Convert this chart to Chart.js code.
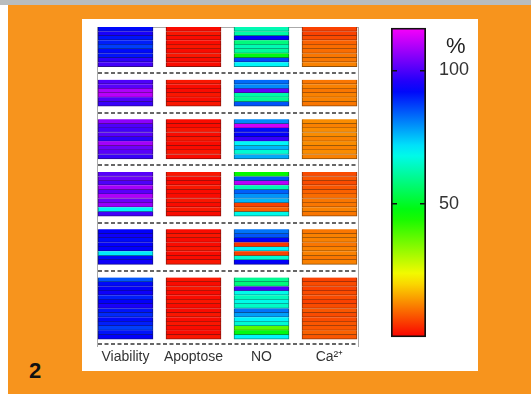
<!DOCTYPE html>
<html>
<head>
<meta charset="utf-8">
<script src="https://cdn.jsdelivr.net/npm/chart.js@4.4.1/dist/chart.umd.min.js"></script>
<style>
html,body{margin:0;padding:0;}
body{width:531px;height:394px;position:relative;overflow:hidden;background:#fff;font-family:'Liberation Sans',Arial,sans-serif;}
#strip{position:absolute;left:0;top:0;width:531px;height:5px;background:#b8bcbe;}
#bg{position:absolute;left:8px;top:5px;width:523px;height:389px;background:#f7941d;}
#panel{position:absolute;left:82px;top:19px;width:396px;height:352px;background:#fff;}
#heat{position:absolute;left:82px;top:19px;}
#cbar{position:absolute;left:386px;top:16px;}
#pct{position:absolute;left:446px;top:33px;font-size:22px;color:#222;}
#num{position:absolute;left:29px;top:358px;font-size:22px;font-weight:bold;color:#111;}
</style>
</head>
<body>
<div id="strip"></div>
<div id="bg"></div>
<div id="panel"></div>
<canvas id="heat" width="300" height="352"></canvas>
<canvas id="cbar" width="95" height="333"></canvas>
<div id="pct">%</div>
<div id="num">2</div>
<script>
// column labels and row groups (top to bottom)
const columns = ['Viability', 'Apoptose', 'NO', 'Ca²⁺']
const groupSizes = [9, 6, 9, 10, 8, 14]

// values in % per row, concatenated over the groups
const viability = [
  92, 95, 91, 90, 87, 92, 91, 97, 99,
  100, 101, 109, 110, 100, 98,
  106, 100, 99, 101, 97, 108, 103, 101, 98,
  101, 103, 100, 108, 101, 109, 103, 107, 70, 99,
  93, 94, 92, 93, 93, 71, 92, 94,
  85, 92, 93, 94, 90, 93, 95, 91, 89, 92, 90, 87, 91, 93
]
const apoptose = [
  1, 2, 1, 1, 2, 1, 2, 1, 1,
  2, 1, 1, 2, 1, 2,
  1, 1, 2, 1, 2, 1, 1, 2, 1,
  2, 1, 1, 2, 1, 1, 2, 1, 2, 1,
  1, 2, 1, 1, 2, 1, 1, 2,
  2, 1, 2, 1, 1, 2, 1, 1, 2, 1, 2, 1, 1, 2
]
const no = [
  63, 62, 93, 58, 63, 61, 48, 86, 70,
  83, 80, 102, 62, 60, 85,
  80, 112, 92, 93, 98, 70, 76, 66, 77,
  46, 85, 110, 63, 84, 79, 76, 6, 9, 68,
  82, 85, 93, 5, 70, 6, 66, 93,
  60, 58, 100, 68, 64, 68, 65, 82, 78, 70, 66, 38, 48, 70
]
const calcium = [
  6, 6, 7, 9, 10, 10, 11, 11, 12,
  11, 12, 11, 12, 12, 11,
  13, 12, 13, 13, 12, 13, 12, 13, 12,
  7, 8, 7, 8, 9, 10, 11, 11, 12, 11,
  11, 12, 12, 11, 12, 12, 11, 12,
  6, 7, 6, 7, 7, 6, 7, 8, 7, 7, 8, 8, 9, 8
]
const colorTicks = [50, 100]
const colorMin = 0
const colorMax = 116

const series = [viability, apoptose, no, calcium]

// layout of the grid in axis units
const GAP = 3
const COL_W = 55
const COL_STEP = 68

Chart.defaults.font.family = "'Liberation Sans', Arial, sans-serif"
Chart.defaults.color = '#333'

function hue(v) {
  return Math.max(0, Math.min(1, (v - colorMin) / (colorMax - colorMin))) * 300
}
function colorOf(v) { return 'hsl(' + hue(v) + ',100%,49%)' }
function edgeOf(v) { return 'hsl(' + hue(v) + ',85%,30%)' }

const rowPos = []
const dashPos = []
let start = 0
groupSizes.forEach((n, g) => {
  for (let i = 0; i < n; i++) rowPos.push(start + i + 0.5)
  start += n
  dashPos.push(g < groupSizes.length - 1 ? start + GAP / 2 : start + 1.1)
  start += GAP
})
const yMax = dashPos[dashPos.length - 1] + 0.5

new Chart(document.getElementById('heat'), {
  type: 'bar',
  data: {
    datasets: series.map((vals, c) => ({
      data: vals.map((v, i) => ({ y: rowPos[i], x: [c * COL_STEP, c * COL_STEP + COL_W] })),
      backgroundColor: vals.map(colorOf),
      borderColor: vals.map(edgeOf),
      borderWidth: { top: 0, right: 1, bottom: 1, left: 1 },
      borderSkipped: false,
      grouped: false,
      barPercentage: 1,
      categoryPercentage: 1
    }))
  },
  options: {
    indexAxis: 'y',
    responsive: false,
    animation: false,
    layout: { padding: { left: 15, right: 24, top: 8, bottom: 2 } },
    plugins: { legend: { display: false }, tooltip: { enabled: false } },
    scales: {
      x: {
        type: 'linear',
        min: -1,
        max: 3 * COL_STEP + COL_W + 1,
        afterBuildTicks: axis => { axis.ticks = columns.map((_, c) => ({ value: c * COL_STEP + COL_W / 2 })) },
        ticks: { callback: (v, i) => columns[i], autoSkip: false, maxRotation: 0, padding: 3, font: { size: 14 }, color: '#333' },
        grid: { display: false, drawTicks: false },
        border: { display: false }
      },
      x2: {
        type: 'linear',
        position: 'top',
        min: 0,
        max: 1,
        ticks: { display: false },
        grid: { display: false, drawTicks: false },
        border: { color: '#aaa', width: 1 }
      },
      y: {
        type: 'linear',
        reverse: true,
        offset: false,
        min: 0,
        max: yMax,
        afterBuildTicks: axis => { axis.ticks = dashPos.map(v => ({ value: v })) },
        ticks: { display: false },
        grid: { color: '#666', lineWidth: 2, drawTicks: false, offset: false },
        border: { color: '#aaa', width: 1, dash: [4, 2.5] }
      },
      y2: {
        type: 'linear',
        position: 'right',
        ticks: { display: false },
        grid: { display: false, drawTicks: false },
        border: { color: '#aaa', width: 1 }
      }
    }
  }
})

new Chart(document.getElementById('cbar'), {
  type: 'bar',
  data: {
    labels: [''],
    datasets: [{
      data: [[colorMin, colorMax]],
      backgroundColor: ctx => {
        const area = ctx.chart.chartArea
        if (!area) return '#fff'
        const g = ctx.chart.ctx.createLinearGradient(0, area.bottom, 0, area.top)
        for (let v = colorMin; v <= colorMax; v += 4) g.addColorStop((v - colorMin) / (colorMax - colorMin), colorOf(v))
        return g
      },
      borderColor: '#111',
      borderWidth: 2,
      borderSkipped: false,
      barPercentage: 1,
      categoryPercentage: 1
    }]
  },
  options: {
    responsive: false,
    animation: false,
    layout: { padding: { left: 5, right: 0, top: 0, bottom: 0 } },
    plugins: { legend: { display: false }, tooltip: { enabled: false } },
    scales: {
      x: { display: false },
      y: {
        position: 'right',
        min: colorMin,
        max: colorMax,
        afterBuildTicks: axis => { axis.ticks = colorTicks.map(v => ({ value: v })) },
        afterFit: axis => { axis.width = 55 },
        ticks: { padding: 1, font: { size: 18 }, color: '#333' },
        grid: { color: '#111', lineWidth: 1.5, tickLength: 12, tickColor: 'rgba(0,0,0,0)', z: 1 },
        border: { display: false, dash: [6, 23] }
      }
    }
  }
})
</script>
</body>
</html>
